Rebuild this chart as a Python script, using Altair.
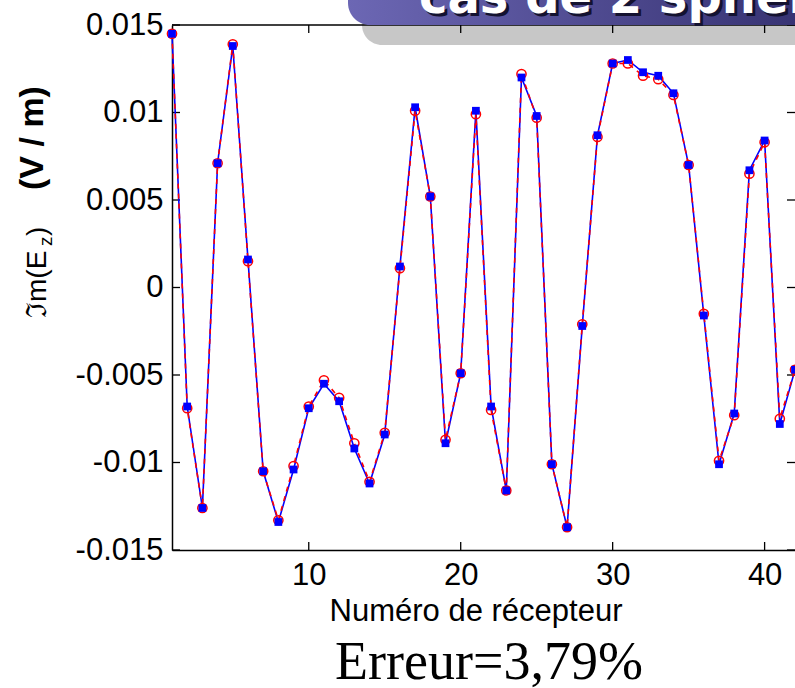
import altair as alt
import pandas as pd

# ---- data ----
receivers = list(range(1, 43))
ez_reference = [0.0145, -0.0069, -0.0126, 0.0071, 0.0139, 0.0015, -0.0105, -0.0133, -0.0102, -0.0068,
                -0.0053, -0.0063, -0.0089, -0.0111, -0.0083, 0.0011, 0.0101, 0.0052, -0.0087, -0.0049,
                0.0099, -0.0070, -0.0116, 0.0122, 0.0097, -0.0101, -0.0137, -0.0021, 0.0086, 0.0128,
                0.0128, 0.0121, 0.0119, 0.0110, 0.0070, -0.0015, -0.0099, -0.0073, 0.0065, 0.0083,
                -0.0075, -0.0047]
ez_computed = [0.0145, -0.0068, -0.0126, 0.0071, 0.0138, 0.0016, -0.0105, -0.0134, -0.0104, -0.0069,
               -0.0055, -0.0065, -0.0092, -0.0112, -0.0084, 0.0012, 0.0103, 0.0052, -0.0089, -0.0049,
               0.0101, -0.0068, -0.0116, 0.0120, 0.0098, -0.0101, -0.0137, -0.0022, 0.0087, 0.0128,
               0.0130, 0.0123, 0.0121, 0.0111, 0.0070, -0.0016, -0.0101, -0.0072, 0.0067, 0.0084,
               -0.0078, -0.0047]
x_ticks = [10, 20, 30, 40]
y_ticks = [-0.015, -0.01, -0.005, 0, 0.005, 0.01, 0.015]

title_text = "cas de 2 sphères"
x_title = "Numéro de récepteur"
error_text = "Erreur=3,79%"

df = pd.DataFrame({"n": receivers, "ref": ez_reference, "calc": ez_computed})
xt = pd.DataFrame({"t": x_ticks})
yt = pd.DataFrame({"t": y_ticks})
one = pd.DataFrame({"a": [0]})

W, H = 623, 525
L, T = 172, 25
SANS = "Liberation Sans, Arial, Helvetica, sans-serif"

xs = alt.Scale(domain=[1, 42], nice=False, zero=False)
ys = alt.Scale(domain=[-0.015, 0.015], nice=False, zero=False)

x_axis = alt.Axis(values=x_ticks, ticks=False, grid=False, title=None,
                  domainColor="black", domainWidth=1.5,
                  labelFont=SANS, labelFontSize=31, labelColor="black",
                  labelPadding=10, labelFlush=False, labelOverlap=False)
y_axis = alt.Axis(values=y_ticks, ticks=False, grid=False, title=None,
                  domainColor="black", domainWidth=1.5,
                  labelFont=SANS, labelFontSize=31, labelColor="black",
                  labelPadding=9, labelFlush=False, labelOverlap=False,
                  labelExpr="'' + datum.value")

X = alt.X("n:Q", scale=xs, axis=x_axis)

# inward ticks
bt = alt.Chart(xt).mark_rule(color="black", strokeWidth=1.3).encode(
    x=alt.X("t:Q", scale=xs, axis=x_axis), y=alt.value(H), y2=alt.value(H - 8))
tt = alt.Chart(xt).mark_rule(color="black", strokeWidth=1.3).encode(
    x=alt.X("t:Q", scale=xs, axis=x_axis), y=alt.value(0), y2=alt.value(8))
lt = alt.Chart(yt).mark_rule(color="black", strokeWidth=1.3).encode(
    y=alt.Y("t:Q", scale=ys, axis=y_axis), x=alt.value(0), x2=alt.value(8))
rt = alt.Chart(yt).mark_rule(color="black", strokeWidth=1.3).encode(
    y=alt.Y("t:Q", scale=ys, axis=y_axis), x=alt.value(W - 8), x2=alt.value(W))
top_line = alt.Chart(one).mark_rule(color="black", strokeWidth=1.5).encode(
    x=alt.value(0), x2=alt.value(W), y=alt.value(0))

base = alt.Chart(df)
blue_line = base.mark_line(color="#0000ff", strokeWidth=1.6).encode(
    x=X, y=alt.Y("calc:Q", scale=ys, axis=y_axis))
red_line = base.mark_line(color="#ff0000", strokeWidth=1.6, strokeDash=[5, 5]).encode(
    x=X, y=alt.Y("ref:Q", scale=ys, axis=y_axis))
red_pts = base.mark_point(shape="circle", size=85, filled=False, color="#ff0000",
                          strokeWidth=1.5, opacity=1).encode(
    x=X, y=alt.Y("ref:Q", scale=ys, axis=y_axis))
blue_pts = base.mark_point(shape="square", size=60, filled=True, color="#0000ff",
                           opacity=1).encode(
    x=X, y=alt.Y("calc:Q", scale=ys, axis=y_axis))

# title banner (decoration)
shadow = alt.Chart(one).mark_rect(cornerRadius=20, color="black", opacity=0.22).encode(
    x=alt.value(190), x2=alt.value(720), y=alt.value(-60), y2=alt.value(20))
banner = alt.Chart(one).mark_rect(
    cornerRadius=22,
    fill=alt.Gradient(gradient="linear",
                      stops=[alt.GradientStop(color="#6c67b4", offset=0),
                             alt.GradientStop(color="#2c2865", offset=1)],
                      x1=0, x2=1, y1=0, y2=0)).encode(
    x=alt.value(176), x2=alt.value(720), y=alt.value(-60), y2=alt.value(0))
banner_shadow_txt = alt.Chart(one).mark_text(
    text=title_text, font="DejaVu Sans", fontWeight="bold", fontSize=48,
    align="left", baseline="alphabetic", color="#141230").encode(
    x=alt.value(250), y=alt.value(-9))
banner_txt = alt.Chart(one).mark_text(
    text=title_text, font="DejaVu Sans", fontWeight="bold", fontSize=48,
    align="left", baseline="alphabetic", color="white").encode(
    x=alt.value(247), y=alt.value(-12))

# axis titles / annotation as text
xlab = alt.Chart(one).mark_text(
    text=x_title, font=SANS, fontSize=31, align="center", baseline="alphabetic",
    color="black").encode(x=alt.value(476 - L), y=alt.value(621 - T))
err = alt.Chart(one).mark_text(
    text=error_text, font="Liberation Serif, Times New Roman, serif", fontSize=54,
    align="center", baseline="alphabetic", color="black").encode(
    x=alt.value(489 - L), y=alt.value(679 - T))
ylab_unit = alt.Chart(one).mark_text(
    text="(V / m)", font=SANS, fontWeight="bold", fontSize=34, angle=270,
    align="center", baseline="alphabetic", color="black").encode(
    x=alt.value(43 - L), y=alt.value(138 - T))
ylab_a = alt.Chart(one).mark_text(
    text="ℑm(E", font=SANS, fontSize=28, angle=270,
    align="left", baseline="alphabetic", color="black").encode(
    x=alt.value(46 - L), y=alt.value(318 - T))
ylab_z = alt.Chart(one).mark_text(
    text="z", font=SANS, fontSize=19, angle=270,
    align="left", baseline="alphabetic", color="black").encode(
    x=alt.value(52 - L), y=alt.value(246 - T))
ylab_b = alt.Chart(one).mark_text(
    text=")", font=SANS, fontSize=28, angle=270,
    align="left", baseline="alphabetic", color="black").encode(
    x=alt.value(46 - L), y=alt.value(236 - T))

chart = alt.layer(
    bt, tt, lt, rt, top_line,
    blue_line, red_line, red_pts, blue_pts,
    shadow, banner, banner_shadow_txt, banner_txt,
    xlab, err, ylab_unit, ylab_a, ylab_z, ylab_b,
).properties(
    width=W, height=H,
    autosize=alt.AutoSizeParams(type="none"),
    padding={"left": L, "top": T, "right": 0, "bottom": 688 - T - H},
    background="white",
).configure_view(stroke=None)

chart.save("out.html", embed_options={"renderer": "svg", "actions": False})
